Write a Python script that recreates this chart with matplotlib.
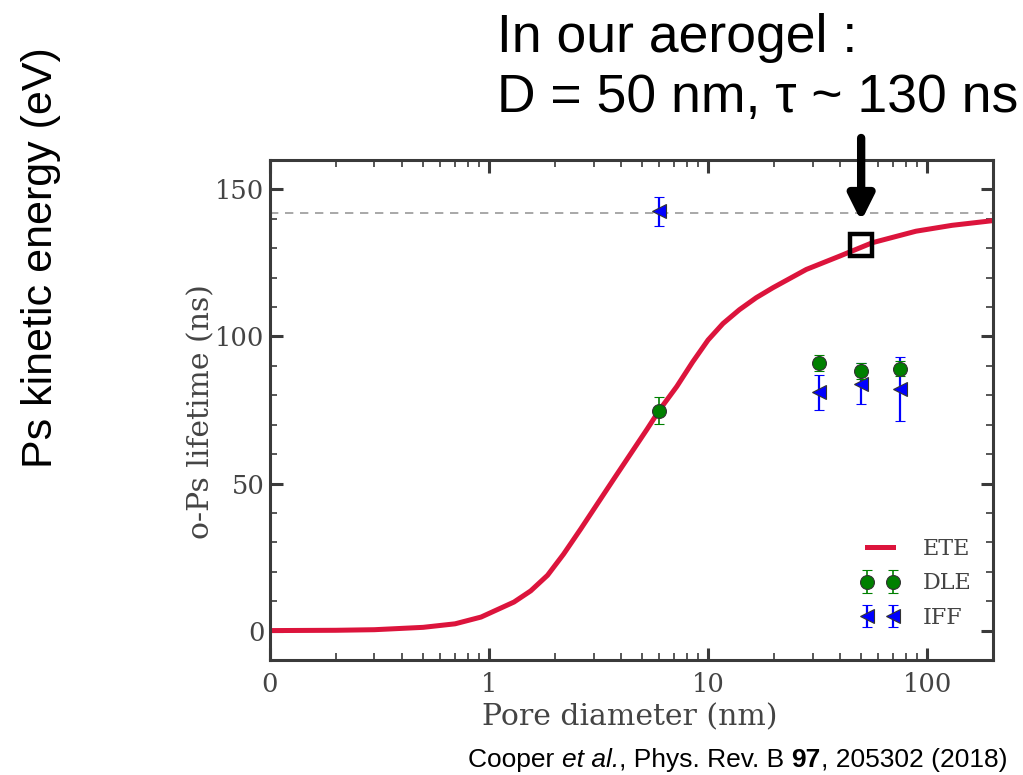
import matplotlib
matplotlib.use("Agg")
import matplotlib.pyplot as plt
from matplotlib.ticker import FixedLocator, FixedFormatter, MultipleLocator, LogLocator, NullFormatter

# ETE model curve
ete_d = [0.1, 0.2, 0.3, 0.5, 0.7, 0.92, 1.3, 1.55, 1.85, 2.19, 2.62, 3.71, 5.27, 6.0,
         7.2, 8.5, 10, 11.7, 13.9, 16.6, 19.8, 28.1, 39.8, 56.3, 89, 130, 200]
ete_tau = [0.0, 0.1, 0.3, 1.1, 2.3, 4.6, 9.7, 13.5, 18.8, 26.0, 34.5, 51.5, 68.5, 75.0,
           83.0, 91.3, 98.8, 104.4, 109.1, 113.2, 116.6, 122.8, 127.3, 131.9, 135.8,
           137.8, 139.4]

# measured points
dle_d = [6, 32, 50, 75]
dle_tau = [74.8, 90.9, 88.3, 89.1]
dle_err = [4.5, 2.7, 2.6, 2.5]

iff_d = [6, 32, 50, 75]
iff_tau = [142.6, 81.0, 84.0, 82.1]
iff_err = [4.9, 6.0, 7.0, 11.0]

tau_vacuum = 142.0
aerogel_d = 50
aerogel_tau = 131.0

x_ticks = [0.1, 1, 10, 100]
x_ticklabels = ["0", "1", "10", "100"]

plt.rcParams["font.family"] = "DejaVu Serif"
fig = plt.figure(figsize=(10.23, 7.75), dpi=100)
ax = fig.add_axes([0.2639, 0.1484, 0.7068, 0.6451])

spine_c = "#3a3a3a"
text_c = "#444444"

ax.axhline(tau_vacuum, ls=(0, (5, 4)), c="#999999", lw=1.2, zorder=1)
ax.plot(ete_d, ete_tau, c="#dc143c", lw=3.6, label="ETE", zorder=2,
        solid_joinstyle="round")
ax.errorbar(dle_d, dle_tau, yerr=dle_err, fmt="o", c="green", mec="#333333", mew=0.8,
            ms=10, ecolor="green", elinewidth=1.2, capsize=3.6, capthick=1.2,
            label="DLE", zorder=4)
ax.errorbar(iff_d, iff_tau, yerr=iff_err, fmt="<", c="blue", mec="#333333", mew=0.8,
            ms=10, ecolor="blue", elinewidth=1.6, capsize=3.8, capthick=1.6,
            label="IFF", zorder=3)

ax.plot([aerogel_d], [aerogel_tau], "s", mfc="none", mec="black", mew=3.2, ms=16, zorder=5)
ax.annotate("", xy=(aerogel_d, 139.2), xytext=(aerogel_d, 167.5),
            arrowprops=dict(arrowstyle="-|>,head_length=1.5,head_width=0.75",
                            lw=6, color="black", shrinkA=0, shrinkB=0),
            annotation_clip=False)

ax.set_xscale("log")
ax.set_xlim(0.1, 200)
ax.set_ylim(-10, 160)
ax.xaxis.set_major_locator(FixedLocator(x_ticks))
ax.xaxis.set_major_formatter(FixedFormatter(x_ticklabels))
ax.xaxis.set_minor_locator(LogLocator(base=10, subs=range(2, 10)))
ax.xaxis.set_minor_formatter(NullFormatter())
ax.yaxis.set_major_locator(MultipleLocator(50))
ax.yaxis.set_minor_locator(MultipleLocator(10))

for s in ax.spines.values():
    s.set_color(spine_c)
    s.set_linewidth(2.2)
ax.tick_params(which="both", direction="in", top=True, right=True, color=spine_c)
ax.tick_params(which="major", length=9, width=2.2, labelsize=18.5, labelcolor=text_c)
ax.tick_params(axis="y", which="major", pad=4)
ax.tick_params(axis="x", which="major", pad=9)
ax.tick_params(which="minor", length=5, width=1.2)

ax.set_xlabel("Pore diameter (nm)", fontsize=21.5, color=text_c)
ax.set_ylabel("o-Ps lifetime (ns)", fontsize=21.5, color=text_c)
ax.xaxis.set_label_coords(0.498, -0.086)
ax.yaxis.set_label_coords(-0.076, 0.496)
ax.xaxis.label.set_va("top")

leg = ax.legend(loc="lower right", frameon=False, fontsize=16, numpoints=2,
                handlelength=1.8, handletextpad=1.0, labelspacing=0.55,
                borderaxespad=0.0, bbox_to_anchor=(0.982, 0.045))
for t in leg.get_texts():
    t.set_color(text_c)

sans = "Liberation Sans"
fig.text(0.486, 0.933, "In our aerogel :", fontsize=38.5, family=sans,
         va="baseline", ha="left")
fig.text(0.486, 0.8555, "D = 50 nm, τ ~ 130 ns", fontsize=38.5, family=sans,
         va="baseline", ha="left")
fig.text(0.040, 0.668, "Ps kinetic energy (eV)", fontsize=31, family=sans,
         rotation=90, va="center", ha="center")

# citation, written piece by piece so italic and bold parts sit inline
cite_parts = [("Cooper ", "normal", "normal"), ("et al.", "italic", "normal"),
              (", Phys. Rev. B ", "normal", "normal"), ("97", "normal", "bold"),
              (", 205302 (2018)", "normal", "normal")]
renderer = fig.canvas.get_renderer()
x0 = 468
for txt, style, weight in cite_parts:
    t = fig.text(x0 / 1023, 0.0103, txt, fontsize=19, family=sans, style=style,
                 weight=weight, ha="left", va="baseline")
    x0 = t.get_window_extent(renderer).x1

fig.savefig("out.png", dpi=100)
